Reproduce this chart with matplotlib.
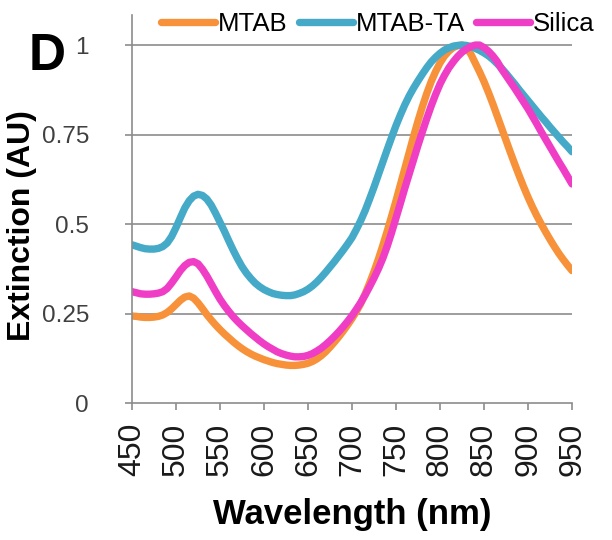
import matplotlib
matplotlib.use('Agg')
import matplotlib.pyplot as plt

plt.rcParams['font.family'] = ['Liberation Sans', 'DejaVu Sans']

# wavelength grid, 5 nm step (450 ... 950)
wavelength = list(range(450, 951, 5))

mtab = [0.243, 0.242, 0.240, 0.239, 0.239, 0.240, 0.242, 0.246, 0.253, 0.263,
        0.275, 0.287, 0.296, 0.299, 0.293, 0.280, 0.264, 0.247, 0.232, 0.218,
        0.205, 0.193, 0.182, 0.171, 0.161, 0.152, 0.144, 0.137, 0.131, 0.126,
        0.121, 0.117, 0.113, 0.110, 0.108, 0.106, 0.105, 0.105, 0.106, 0.108,
        0.111, 0.116, 0.123, 0.132, 0.143, 0.156, 0.170, 0.185, 0.201, 0.218,
        0.236, 0.256, 0.278, 0.305, 0.335, 0.367, 0.402, 0.440, 0.480, 0.522,
        0.565, 0.610, 0.655, 0.700, 0.745, 0.788, 0.828, 0.865, 0.898, 0.926,
        0.950, 0.969, 0.983, 0.993, 0.998, 1.000, 0.993, 0.975, 0.950, 0.925,
        0.898, 0.868, 0.836, 0.802, 0.768, 0.734, 0.700, 0.667, 0.635, 0.604,
        0.575, 0.548, 0.523, 0.500, 0.478, 0.457, 0.437, 0.418, 0.401, 0.385,
        0.370]

mtab_ta = [0.442, 0.438, 0.434, 0.431, 0.430, 0.430, 0.432, 0.437, 0.447, 0.465,
           0.490, 0.518, 0.545, 0.565, 0.578, 0.583, 0.580, 0.570, 0.553, 0.530,
           0.505, 0.480, 0.453, 0.427, 0.403, 0.381, 0.363, 0.348, 0.335, 0.325,
           0.317, 0.311, 0.306, 0.303, 0.301, 0.300, 0.300, 0.302, 0.306, 0.311,
           0.318, 0.327, 0.338, 0.351, 0.365, 0.380, 0.395, 0.411, 0.427, 0.444,
           0.462, 0.485, 0.510, 0.538, 0.570, 0.603, 0.638, 0.673, 0.708, 0.742,
           0.775, 0.805, 0.833, 0.858, 0.880, 0.900, 0.919, 0.937, 0.953, 0.966,
           0.977, 0.986, 0.992, 0.997, 0.999, 1.000, 0.999, 0.996, 0.991, 0.985,
           0.978, 0.970, 0.960, 0.948, 0.935, 0.921, 0.906, 0.891, 0.875, 0.860,
           0.845, 0.830, 0.815, 0.800, 0.786, 0.771, 0.757, 0.743, 0.729, 0.716,
           0.702]

silica = [0.311, 0.308, 0.305, 0.304, 0.304, 0.305, 0.307, 0.311, 0.320, 0.335,
          0.352, 0.370, 0.384, 0.393, 0.395, 0.389, 0.374, 0.355, 0.333, 0.311,
          0.290, 0.272, 0.256, 0.241, 0.228, 0.216, 0.205, 0.194, 0.184, 0.174,
          0.165, 0.157, 0.150, 0.143, 0.138, 0.134, 0.131, 0.129, 0.129, 0.130,
          0.133, 0.138, 0.145, 0.153, 0.163, 0.174, 0.186, 0.199, 0.213, 0.228,
          0.244, 0.262, 0.281, 0.302, 0.325, 0.349, 0.375, 0.404, 0.438, 0.476,
          0.517, 0.558, 0.600, 0.640, 0.680, 0.720, 0.758, 0.795, 0.830, 0.862,
          0.891, 0.915, 0.936, 0.953, 0.968, 0.980, 0.989, 0.996, 1.000, 1.000,
          0.993, 0.983, 0.970, 0.954, 0.933, 0.915, 0.897, 0.879, 0.860, 0.841,
          0.822, 0.801, 0.780, 0.758, 0.737, 0.716, 0.695, 0.674, 0.654, 0.633,
          0.612]

series = [('MTAB', mtab, '#f7923a'),
          ('MTAB-TA', mtab_ta, '#45a9c8'),
          ('Silica', silica, '#f03dc6')]

fig = plt.figure(figsize=(6.12, 5.4), dpi=100)
ax = fig.add_axes([132 / 612, 1 - 403 / 540, 440 / 612, 388 / 540])

for name, vals, col in series:
    ax.plot(wavelength, vals, color=col, lw=5.3, label=name,
            solid_capstyle='round', solid_joinstyle='round')

ax.set_xlim(450, 950)
ax.set_ylim(0, 1.084)
ax.set_xticks(range(450, 951, 50))
ax.set_yticks([0, 0.25, 0.5, 0.75, 1])
ax.set_yticklabels(['0', '0.25', '0.5', '0.75', '1'])

for yv in [0.25, 0.5, 0.75, 1]:
    ax.axhline(yv, color='#8c8c8c', lw=1.2, zorder=0)

for s in ['top', 'right']:
    ax.spines[s].set_visible(False)
for s in ['left', 'bottom']:
    ax.spines[s].set_color('#8c8c8c')
    ax.spines[s].set_linewidth(1.2)

ax.tick_params(axis='x', direction='out', length=5, width=1.2, color='#8c8c8c',
               labelsize=23, labelrotation=90, pad=9, labelcolor='#1a1a1a')
ax.tick_params(axis='y', direction='out', length=5, width=1.2, color='#8c8c8c',
               labelsize=17.5, pad=26, labelcolor='#404040')

ax.set_xlabel('Wavelength (nm)', fontsize=25, fontweight='bold', labelpad=16)
ax.set_ylabel('Extinction (AU)', fontsize=23, fontweight='bold')
ax.yaxis.set_label_coords(-95 / 440, (403 - 226) / 388)

fig.text(47 / 612, 1 - 57 / 540, 'D', fontsize=37, fontweight='bold',
         ha='center', va='center')

ax.legend(loc='center', bbox_to_anchor=(378 / 612, 1 - 24 / 540),
          bbox_transform=fig.transFigure, ncol=3, frameon=False,
          fontsize=18.5, handlelength=2.1, handletextpad=0.1,
          columnspacing=0.45, borderpad=0, borderaxespad=0)

fig.savefig('out.png', dpi=100)
